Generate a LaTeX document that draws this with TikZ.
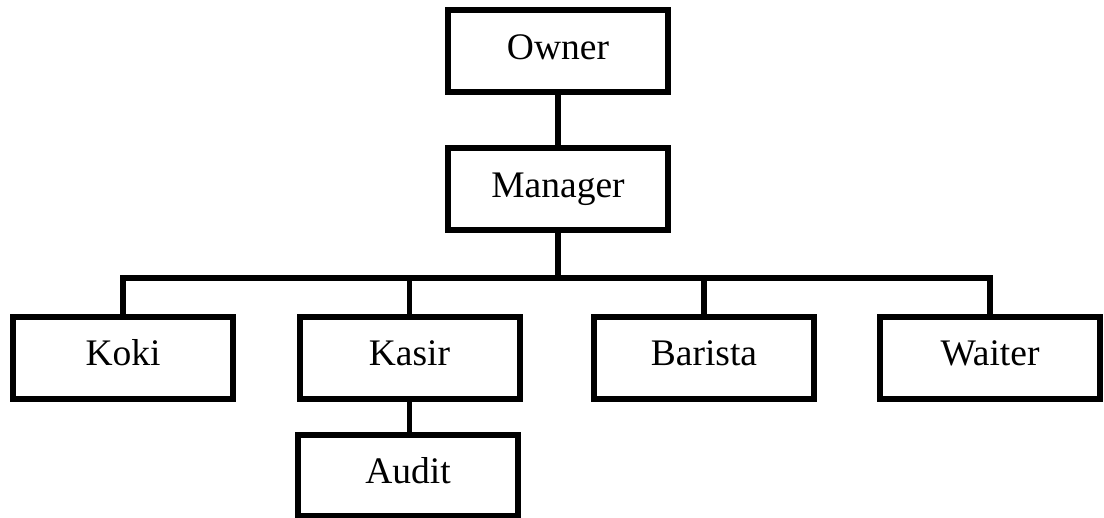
\documentclass[tikz,border=0pt]{standalone}
\usepackage{fontspec}
\setmainfont{Liberation Serif}
\begin{document}
\begin{tikzpicture}[x=1pt,y=-1pt,
  box/.style={draw, line width=6pt, minimum width=220pt, minimum height=82pt,
    inner sep=0pt, outer sep=0pt, font=\fontsize{37.5}{40}\selectfont,
    text height=24pt, text depth=8pt},
  link/.style={line width=5.5pt}]
\useasboundingbox (0,0) rectangle (1104,518);
\node[box] (owner) at (558,51.5) {Owner};
\node[box] (manager) at (558,189.5) {Manager};
\node[box] (koki) at (123,358) {Koki};
\node[box] (kasir) at (409.5,358) {Kasir};
\node[box] (barista) at (704,358) {Barista};
\node[box] (waiter) at (990,358) {Waiter};
\node[box, minimum height=81pt] (audit) at (408,475.5) {Audit};
\coordinate (bus) at (558,278);
\draw[link] (owner.south) -- (manager.north);
\draw[link] (manager.south) -- (bus);
\draw[link] (koki.north) |- (bus);
\draw[link] (bus) -| (waiter.north);
\draw[link] (kasir.north) -- (kasir.north |- bus);
\draw[link] (barista.north) -- (barista.north |- bus);
\draw[link] (kasir.south) -- (kasir.south |- audit.north);
\end{tikzpicture}
\end{document}
